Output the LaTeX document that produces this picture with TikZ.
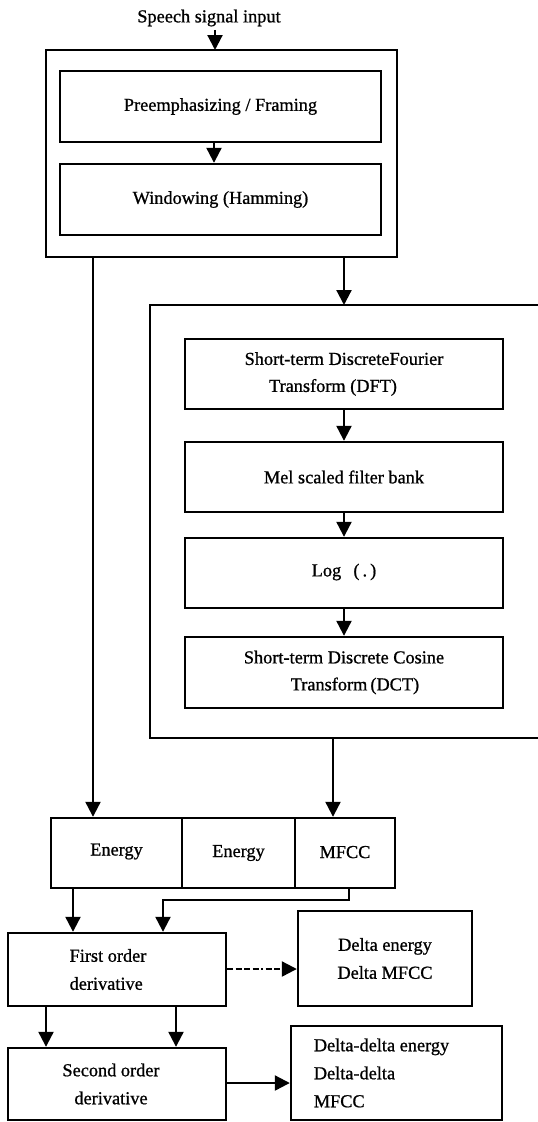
\documentclass[tikz,border=0pt]{standalone}
\usepackage{fontspec}
\setmainfont{Liberation Serif}[UprightFeatures={FakeBold=0.9}]
\usetikzlibrary{arrows.meta}
\begin{document}
\begin{tikzpicture}[x=1pt,y=-1pt,
  font=\fontsize{18.3}{28}\selectfont,
  outerbox/.style={draw,line width=2.4pt,inner sep=0pt},
  blk/.style={draw,line width=2.4pt,inner sep=0pt,align=center},
  arr/.style={line width=2.2pt,-{Triangle[width=15pt,length=15pt]}},
  dasharr/.style={line width=2.2pt,-{Triangle[width=15pt,length=15pt]},
    dash pattern=on 6pt off 2.5pt on 6pt off 2.5pt on 6pt off 2.5pt on 6pt off 2.5pt on 2pt off 2.5pt}]
\useasboundingbox (0,0) rectangle (538,1122);

% input
\node (input) at (209,18) {Speech signal input};
% first group
\node[outerbox,minimum width=351pt,minimum height=207pt] (grpA) at (221.5,153.5) {};
\node[blk,minimum width=321pt,minimum height=71pt] (pre) at (220.5,106.5) {Preemphasizing / Framing};
\node[blk,minimum width=321pt,minimum height=71pt] (win) at (220.5,199.5) {Windowing (Hamming)};
\coordinate (inA) at (215,50);
\draw[arr] (input.south -| inA) -- (inA);
\draw[arr] (pre.south -| 214,0) -- (win.north -| 214,0);

% second group (open to the right)
\coordinate (gBtr) at (538,305);
\coordinate (gBtl) at (150,305);
\coordinate (gBbl) at (150,738);
\coordinate (gBbr) at (538,738);
\draw[line width=2.4pt] (gBtr) -- (gBtl) -- (gBbl) -- (gBbr);
\draw[arr] (grpA.south -| 344,0) -- (gBtl -| 344,0);

\node[blk,minimum width=318pt,minimum height=70pt] (dft) at (344,374) {Short-term DiscreteFourier\\[-1pt]\hspace*{-1.2em}Transform (DFT)};
\node[blk,minimum width=318pt,minimum height=70pt] (mel) at (344,477) {Mel scaled filter bank};
\node[blk,minimum width=318pt,minimum height=70pt] (log) at (344,573) {\raisebox{6pt}{Log\enspace\,(\,.\,)}};
\node[blk,minimum width=318pt,minimum height=71pt] (dct) at (344,672.5) {Short-term Discrete Cosine\\[-1pt]\hspace*{1.2em}Transform\,(DCT)};
\draw[arr] (dft) -- (mel);
\draw[arr] (mel) -- (log);
\draw[arr] (log) -- (dct);

% feature row
\node[blk,minimum width=131pt,minimum height=70pt] (e1) at (116.5,853) {\raisebox{7pt}{Energy}};
\node[blk,minimum width=113pt,minimum height=70pt] (e2) at (238.5,853) {Energy};
\node[blk,minimum width=100pt,minimum height=70pt] (mf) at (345,853) {\raisebox{2pt}{MFCC}};
\draw[arr] (grpA.south -| 93,0) -- (e1.north -| 93,0);
\draw[arr] (gBbl -| 333,0) -- (mf.north -| 333,0);

% derivatives
\node[blk,minimum width=218pt,minimum height=73pt,align=left] (fo) at (117,969.5) {\hspace*{-18pt}First order\\\hspace*{-18pt}derivative};
\node[blk,minimum width=174pt,minimum height=95pt] (d1) at (385,958.5) {Delta energy\\Delta MFCC};
\node[blk,minimum width=218pt,minimum height=72pt] (so) at (117,1084) {\hspace*{-12pt}Second order\\\hspace*{-12pt}derivative};
\node[blk,minimum width=211pt,minimum height=94pt,align=left] (dd) at (396.5,1073) {\hspace*{-30pt}Delta-delta energy\\\hspace*{-30pt}Delta-delta\\\hspace*{-30pt}MFCC};

\draw[arr] (e1.south -| 73,0) -- (fo.north -| 73,0);
\coordinate (b1) at (349,900);
\coordinate (b2) at (163,900);
\draw[arr] (mf.south -| b1) -- (b1) -- (b2) -- (fo.north -| b2);
\draw[dasharr] (fo.east |- 0,969) -- (d1.west |- 0,969);
\draw[arr] (fo.south -| 46,0) -- (so.north -| 46,0);
\draw[arr] (fo.south -| 176,0) -- (so.north -| 176,0);
\draw[arr] (so.east |- 0,1083) -- (dd.west |- 0,1083);
\end{tikzpicture}
\end{document}
